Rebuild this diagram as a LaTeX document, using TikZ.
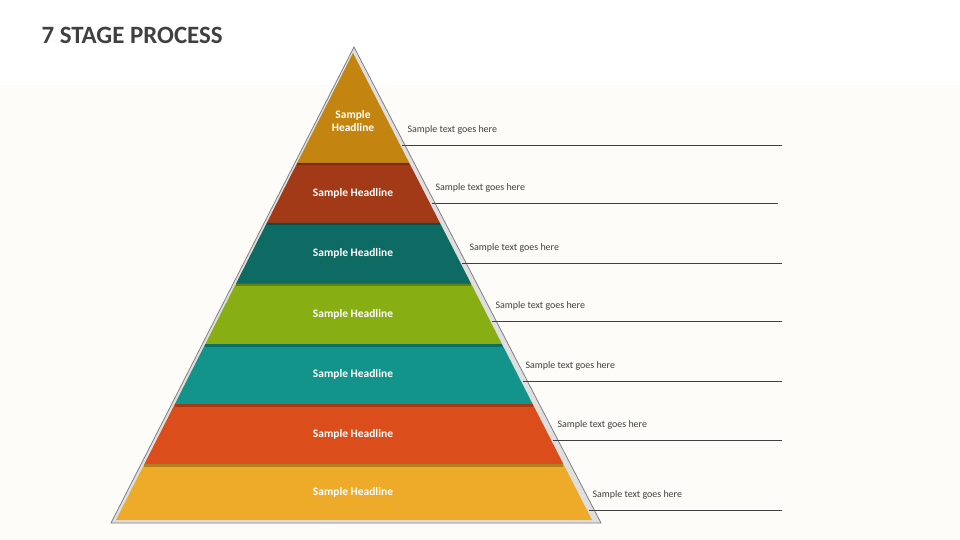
\documentclass[tikz,border=0pt]{standalone}
\usepackage{fontspec}
\setmainfont{Carlito}
\definecolor{c1}{HTML}{C38510}
\definecolor{c2}{HTML}{A33A17}
\definecolor{c3}{HTML}{0E6B63}
\definecolor{c4}{HTML}{87AE12}
\definecolor{c5}{HTML}{12948A}
\definecolor{c6}{HTML}{DB4D1A}
\definecolor{c7}{HTML}{EEAB2A}
\definecolor{ttl}{HTML}{404040}
\definecolor{bgc}{HTML}{FDFCF8}
\tikzset{head/.style={text=white,font=\bfseries\fontsize{11.5}{13}\selectfont,align=center},
 side/.style={text=ttl,font=\fontsize{10}{12}\selectfont,anchor=west},
 rule/.style={draw=ttl,line width=0.7bp}}
\begin{document}
\begin{tikzpicture}[x=1bp,y=-1bp]
\useasboundingbox (0,0) rectangle (960,540);
\fill[white] (0,0) rectangle (960,540);
\fill[bgc] (0,85) rectangle (960,540);
\node[anchor=west,text=ttl,font=\bfseries\fontsize{25}{30}\selectfont] (title) at (38,35) {7 STAGE PROCESS};
\fill[gray!25,draw=gray,line width=0.8bp] (354,47) -- (601,523) -- (111,523) -- cycle;
\foreach \t/\b/\c/\n [count=\i] in {53/163/c1/{Sample\\Headline},163/223/c2/Sample Headline,223/284/c3/Sample Headline,284/344/c4/Sample Headline,344/404/c5/Sample Headline,404/464/c6/Sample Headline,464/520/c7/Sample Headline}{
  \fill[\c] ({353-0.5075*(\t-53)},\t) -- ({353+0.5118*(\t-53)},\t) -- ({353+0.5118*(\b-53)},\b) -- ({353-0.5075*(\b-53)},\b) -- cycle;
  \ifnum\i>1
   \fill[black,opacity=0.25] ({353-0.5075*(\t-53)},\t) rectangle ({353+0.5118*(\t-53)},\t+2.5);
  \fi
  \node[head] (h\i) at (353,{(\t+\b)/2+(\i==1?13:0)}) {\n};
}
\foreach \y/\tx/\e [count=\i] in {145/407/782,203/435/778,263/469/782,321/495/782,381/525/782,440/557/782,510/592/782}{
  \coordinate (a\i) at ({353+0.5118*(\y-53)+2},\y);
  \coordinate (e\i) at (\e,\y);
  \draw[rule] (a\i) -- (e\i);
  \node[side] (s\i) at (\tx-3,\y-15) {Sample text goes here};
}
\end{tikzpicture}
\end{document}
